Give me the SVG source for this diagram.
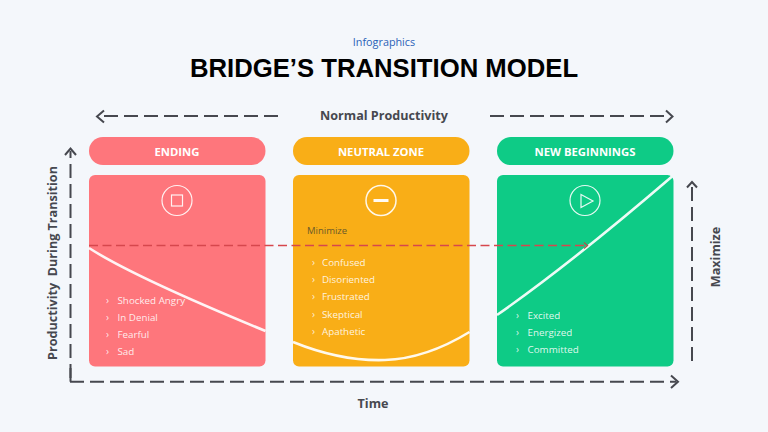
<svg xmlns="http://www.w3.org/2000/svg" width="768" height="432" viewBox="0 0 768 432">
<style>
text{font-family:"Open Sans","Noto Sans","Liberation Sans",sans-serif}
.ax{fill:none;stroke:#46484f;stroke-width:2;stroke-dasharray:14 6}
.head{fill:none;stroke:#46484f;stroke-width:2}
.lab{font-size:12.6px;font-weight:700;fill:#46484f}
.pill{font-size:11.300px;font-weight:700;fill:#fff;text-anchor:middle}
.item{font-size:9.800px;fill:#fff;fill-opacity:.88}
.chev{font-size:10px;fill:#fff;fill-opacity:.8}
.curve{fill:none;stroke:#fff;stroke-width:2.6;stroke-opacity:.92}
.ic{fill:none;stroke:#fff;stroke-width:1.2;stroke-opacity:.9}
</style>
<rect width="768" height="432" fill="#f4f7fb"/>
<text x="384" y="46" text-anchor="middle" font-size="10.800" fill="#2a62b8">Infographics</text>
<text x="384" y="77" text-anchor="middle" font-size="25.700" font-weight="700" fill="#000" style="font-family:'Liberation Sans',Arial,sans-serif">BRIDGE’S TRANSITION MODEL</text>
<text class="lab" x="384" y="120" text-anchor="middle">Normal Productivity</text>
<text class="lab" x="373" y="408" text-anchor="middle">Time</text>
<text class="lab" transform="translate(56.500,263) rotate(-90)" text-anchor="middle">Productivity&#160; During Transition</text>
<text class="lab" transform="translate(720,257) rotate(-90)" text-anchor="middle">Maximize</text>
<g id="ending">
<rect x="89" y="137" width="176.500" height="28" rx="14" fill="#fe767c"/>
<text class="pill" x="177" y="156">ENDING</text>
<rect x="89" y="175" width="176.500" height="191.500" rx="6" fill="#fe767c"/>
<circle class="ic" cx="177" cy="200.500" r="15"/>
<rect class="ic" x="171.500" y="195" width="11" height="11"/>
<path class="curve" d="M89 248C120 268 190 300 265.500 331"/>
<g class="chev"><text x="106" y="304">›</text><text x="106" y="321">›</text><text x="106" y="338">›</text><text x="106" y="355">›</text></g>
<g class="item"><text x="117.500" y="304">Shocked Angry</text><text x="117.500" y="321">In Denial</text><text x="117.500" y="338">Fearful</text><text x="117.500" y="355">Sad</text></g>
</g>
<g id="neutral-zone">
<rect x="293" y="137" width="176.500" height="28" rx="14" fill="#f9ae17"/>
<text class="pill" x="381" y="155.500">NEUTRAL ZONE</text>
<rect x="293" y="175" width="176.500" height="191.500" rx="6" fill="#f9ae17"/>
<circle class="ic" cx="381" cy="200.500" r="15" style="stroke-width:1.5"/>
<path d="M373.500 200.500H388.500" fill="none" stroke="#fff" stroke-width="3" stroke-opacity=".95"/>
<text x="307" y="233.500" font-size="9.500" fill="#6b5a2a">Minimize</text>
<path class="curve" d="M293 342C325 355 355 361 385 360C415 359 445 347 469.500 332"/>
<g class="chev"><text x="312" y="266">›</text><text x="312" y="283">›</text><text x="312" y="300">›</text><text x="312" y="318">›</text><text x="312" y="335">›</text></g>
<g class="item"><text x="322" y="266">Confused</text><text x="322" y="283">Disoriented</text><text x="322" y="300">Frustrated</text><text x="322" y="318">Skeptical</text><text x="322" y="335">Apathetic</text></g>
</g>
<g id="new-beginnings">
<rect x="497" y="137" width="176.500" height="28" rx="14" fill="#0ecb86"/>
<text class="pill" x="585" y="155.500">NEW BEGINNINGS</text>
<rect x="497" y="175" width="176.500" height="191.500" rx="6" fill="#0ecb86"/>
<circle class="ic" cx="585" cy="200.500" r="15"/>
<path class="ic" d="M581 194.500L593 201L581 207.500Z"/>
<path class="curve" d="M497 315C540 285 590 247 672 176.500"/>
<g class="chev"><text x="516" y="319">›</text><text x="516" y="336">›</text><text x="516" y="353">›</text></g>
<g class="item"><text x="527.500" y="319">Excited</text><text x="527.500" y="336">Energized</text><text x="527.500" y="353">Committed</text></g>
</g>
<g id="connectors">
<path class="ax" d="M278 116H100"/>
<path class="head" d="M104 110.500L97 116.500L104 122.500"/>
<path class="ax" d="M490 116H670"/>
<path class="head" d="M666 110.500L672.500 116.500L666 122.500"/>
<path class="ax" d="M70.500 378V151"/>
<path class="head" d="M65 155L70.500 148.500L76 155"/>
<path class="ax" d="M70 381.700H676"/>
<path d="M70.500 368V381.700" fill="none" stroke="#46484f" stroke-width="2"/>
<path class="head" d="M671 375.500L678 381.700L671 388"/>
<path class="ax" d="M692 361V184"/>
<path class="head" d="M687 187.500L692 182L697 187.500"/>
<path d="M89 245.500H585" fill="none" stroke="#d6474d" stroke-width="1.500" stroke-dasharray="9 4.500"/>
<path d="M584 242.500L587.500 245.500L584 248.500" fill="none" stroke="#a8584a" stroke-width="1.300"/>
</g>
</svg>
